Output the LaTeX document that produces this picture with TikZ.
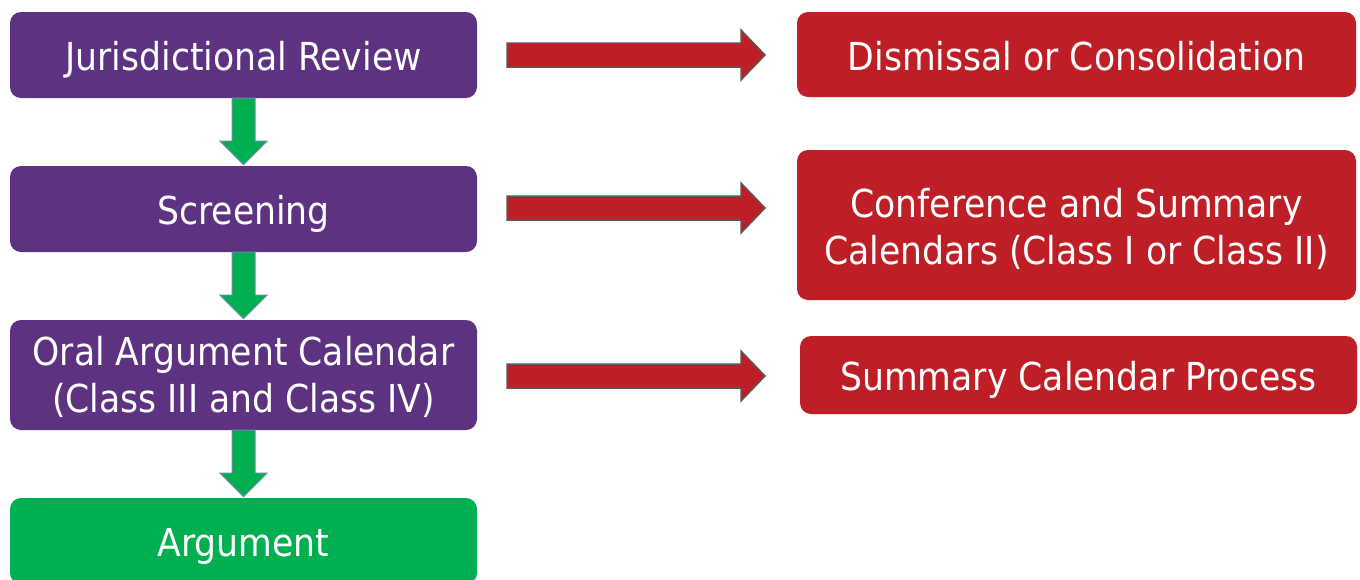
\documentclass[tikz,border=0pt]{standalone}
\usepackage{fontspec}
\setmainfont{DejaVu Sans Condensed}
\definecolor{purp}{HTML}{5C3281}
\definecolor{redb}{HTML}{BE1F26}
\definecolor{grn}{HTML}{00B050}
\definecolor{gline}{HTML}{6A8CA8}
\definecolor{rline}{HTML}{595959}
\tikzset{
  box/.style={rectangle, rounded corners=11pt, draw=none, inner sep=0pt},
  purpbox/.style={box, fill=purp},
  redbox/.style={box, fill=redb},
  grnbox/.style={box, fill=grn},
  label1/.style={text=white, inner sep=0pt, anchor=base, font=\fontsize{38.5}{47}\selectfont},
  label2/.style={text=white, inner sep=0pt, align=center, font=\fontsize{38.5}{47}\selectfont},
  downarrow/.style={fill=grn, draw=gline, line width=1pt, line join=miter},
  rightarrow/.style={fill=redb, draw=rline, line width=1.5pt, line join=miter}
}
\begin{document}
\begin{tikzpicture}[x=1pt,y=-1pt]
\useasboundingbox (0,0) rectangle (1360,579);
% left column boxes
\node[purpbox, minimum width=467pt, minimum height=86pt] (jrb) at (243.5,55) {};
\node[label1] (jr) at ([yshift=-15.5pt]jrb.center) {Jurisdictional Review};
\node[purpbox, minimum width=467pt, minimum height=86pt] (scb) at (243.5,209) {};
\node[label1] (sc) at ([yshift=-15.5pt]scb.center) {Screening};
\node[purpbox, minimum width=467pt, minimum height=110pt] (oab) at (243.5,375) {};
\node[label2] (oa) at ([yshift=-1.5pt]oab.center) {Oral Argument Calendar\\(Class III and Class IV)};
\node[grnbox, minimum width=467pt, minimum height=86pt] (arb) at (243.5,541) {};
\node[label1] (ar) at ([yshift=-15.5pt]arb.center) {Argument};
% right column boxes
\node[redbox, minimum width=559pt, minimum height=85pt] (dcb) at (1076.5,54.5) {};
\node[label1] (dc) at ([yshift=-15.5pt]dcb.center) {Dismissal or Consolidation};
\node[redbox, minimum width=559pt, minimum height=150pt] (csb) at (1076.5,225) {};
\node[label2] (cs) at ([yshift=-4pt]csb.center) {Conference and Summary\\Calendars (Class I or Class II)};
\node[redbox, minimum width=557pt, minimum height=78pt] (spb) at (1078.5,375) {};
\node[label1] (sp) at ([yshift=-15.5pt]spb.center) {Summary Calendar Process};
% green down arrows
\foreach \a in {jrb,scb,oab}{
  \path (\a.south) coordinate (t);
  \draw[downarrow] ([xshift=-11.5pt]t) -- ([xshift=11.5pt]t) -- ([xshift=11.5pt,yshift=-43pt]t)
    -- ([xshift=23.5pt,yshift=-43pt]t) -- ([yshift=-66.5pt]t) -- ([xshift=-23.5pt,yshift=-43pt]t)
    -- ([xshift=-11.5pt,yshift=-43pt]t) -- cycle;
}
% red right arrows
\foreach \c in {55,208,376}{
  \draw[rightarrow] (507,\c-12) -- (741,\c-12) -- (741,\c-25) -- (765,\c) -- (741,\c+25) -- (741,\c+12) -- (507,\c+12) -- cycle;
}
\end{tikzpicture}
\end{document}
